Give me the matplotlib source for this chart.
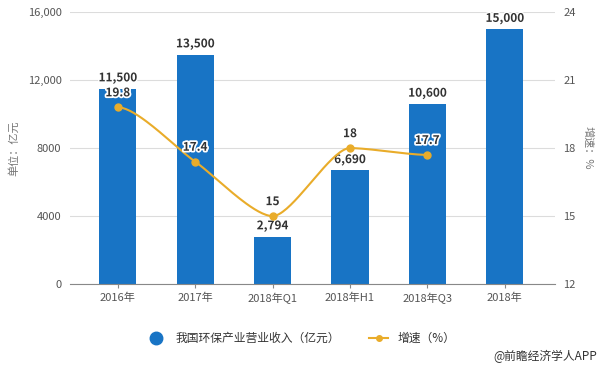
import numpy as np
import matplotlib
matplotlib.use("Agg")
import matplotlib.pyplot as plt
import matplotlib.patheffects as pe
from matplotlib.lines import Line2D

plt.rcParams['font.family'] = ['Noto Sans CJK SC', 'DejaVu Sans']

categories = ['2016年', '2017年', '2018年Q1', '2018年H1', '2018年Q3', '2018年']
revenue = [11500, 13500, 2794, 6690, 10600, 15000]
growth_x = [0, 1, 2, 3, 4]
growth = [19.8, 17.4, 15, 18, 17.7]

bar_color = '#1874c5'
line_color = '#e9ac2a'
grid_color = '#dcdcdc'
text_color = '#333333'


def smooth_curve(xs, ys, n=40, k=0.5):
    # bezier smoothing, flat tangent at local extremes (like echarts)
    xs = np.asarray(xs, float)
    ys = np.asarray(ys, float)
    m = len(xs)
    slope = np.zeros(m)
    for i in range(m):
        if i == 0 or i == m - 1:
            continue
        if (ys[i] - ys[i - 1]) * (ys[i + 1] - ys[i]) <= 0:
            slope[i] = 0
        else:
            slope[i] = (ys[i + 1] - ys[i - 1]) / (xs[i + 1] - xs[i - 1])
    px, py = [], []
    for i in range(m - 1):
        dx = xs[i + 1] - xs[i]
        c1 = (xs[i] + dx * k / 2, ys[i] + slope[i] * dx * k / 2)
        c2 = (xs[i + 1] - dx * k / 2, ys[i + 1] - slope[i + 1] * dx * k / 2)
        t = np.linspace(0, 1, n)
        bx = (1 - t) ** 3 * xs[i] + 3 * (1 - t) ** 2 * t * c1[0] + 3 * (1 - t) * t ** 2 * c2[0] + t ** 3 * xs[i + 1]
        by = (1 - t) ** 3 * ys[i] + 3 * (1 - t) ** 2 * t * c1[1] + 3 * (1 - t) * t ** 2 * c2[1] + t ** 3 * ys[i + 1]
        px.extend(bx)
        py.extend(by)
    return np.array(px), np.array(py)


fig = plt.figure(figsize=(6.02, 3.67), dpi=100)
ax = fig.add_axes([0.116, 0.226, 0.806, 0.741])
ax2 = ax.twinx()

x = np.arange(len(categories))
ax.bar(x, revenue, width=0.48, color=bar_color, zorder=2)
for xi, v in zip(x, revenue):
    ax.text(xi, v + 250, f'{v:,}', ha='center', va='bottom', fontsize=8.5,
            fontweight='bold', color=text_color, zorder=5,
            path_effects=[pe.withStroke(linewidth=2, foreground='white')])

ax.set_ylim(0, 16000)
ax.set_yticks([0, 4000, 8000, 12000, 16000])
ax.set_yticklabels(['0', '4000', '8000', '12,000', '16,000'])
ax.set_xlim(-0.62, 5.65)
ax.set_xticks(x)
ax.set_xticklabels(categories)
ax.grid(axis='y', color=grid_color, linewidth=0.8, zorder=0)
ax.set_axisbelow(True)
for s in ['top', 'right', 'left']:
    ax.spines[s].set_visible(False)
ax.spines['bottom'].set_color('#888888')
ax.tick_params(axis='y', length=0, labelsize=8, colors='#555555', pad=6)
ax.tick_params(axis='x', length=3, color='#888888', labelsize=8, colors='#555555', pad=3)
ax.set_ylabel('单位：亿元', fontsize=8, color='#777777', labelpad=6)

sx, sy = smooth_curve(growth_x, growth)
ax2.plot(sx, sy, color=line_color, linewidth=1.5, zorder=3)
ax2.plot(growth_x, growth, 'o', color=line_color, markersize=5, zorder=4)
for xi, v in zip(growth_x, growth):
    ax2.text(xi, v + 0.35, f'{v:g}', ha='center', va='bottom', fontsize=8.5,
             fontweight='bold', color=text_color, zorder=6,
             path_effects=[pe.withStroke(linewidth=2.5, foreground='white')])
ax2.set_ylim(12, 24)
ax2.set_yticks([12, 15, 18, 21, 24])
for s in ['top', 'right', 'left', 'bottom']:
    ax2.spines[s].set_visible(False)
ax2.tick_params(axis='y', length=0, labelsize=8, colors='#555555', pad=6)
ax2.set_ylabel('增速：%', fontsize=8, color='#777777', rotation=270, labelpad=12)

handles = [
    Line2D([0], [0], marker='o', color='none', markerfacecolor=bar_color,
           markeredgecolor=bar_color, markersize=9),
    Line2D([0], [0], marker='o', color=line_color, markerfacecolor=line_color,
           markersize=4, linewidth=1.5),
]
fig.legend(handles, ['我国环保产业营业收入（亿元）', '增速（%）'], loc='center',
           bbox_to_anchor=(0.5, 0.078), ncol=2, frameon=False, fontsize=8.5,
           handlelength=1.6, columnspacing=2.5, labelcolor='#333333')

fig.text(0.992, 0.03, '@前瞻经济学人APP', ha='right', va='center', fontsize=8.5, color='#333333')

fig.savefig('out.png', dpi=100)
